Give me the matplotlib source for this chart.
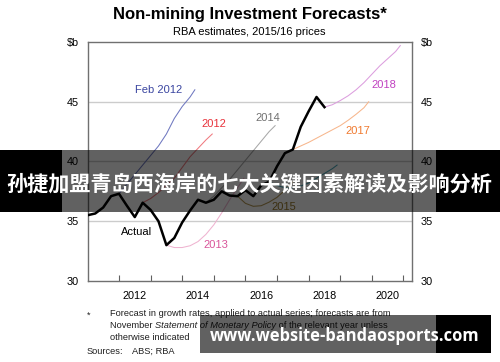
import matplotlib
matplotlib.use('Agg')
import matplotlib.pyplot as plt
from matplotlib.patches import Rectangle

# ---------------- data ----------------
actual_years = [2011.0, 2011.25, 2011.5, 2011.75, 2012.0, 2012.25, 2012.5, 2012.75,
                2013.0, 2013.25, 2013.5, 2013.75, 2014.0, 2014.25, 2014.5, 2014.75,
                2015.0, 2015.25, 2015.5, 2015.75, 2016.0, 2016.25, 2016.5, 2016.75,
                2017.0, 2017.25, 2017.5, 2017.75, 2018.0, 2018.25, 2018.5]
actual_vals = [35.5, 35.65, 36.15, 37.1, 37.3, 36.3, 35.35, 36.55,
               35.95, 35.0, 33.0, 33.6, 34.9, 35.9, 36.8, 36.55,
               36.8, 37.5, 37.15, 37.1, 37.6, 37.1, 38.0, 38.3,
               39.6, 40.7, 41.0, 42.9, 44.2, 45.4, 44.55]

feb2012_years = [2012.0, 2012.25, 2012.5, 2012.75, 2013.0, 2013.25, 2013.5, 2013.75, 2014.0, 2014.25, 2014.4]
feb2012_vals = [37.3, 38.1, 38.9, 39.7, 40.5, 41.3, 42.3, 43.6, 44.6, 45.4, 46.0]

f2012_years = [2012.75, 2013.0, 2013.25, 2013.5, 2013.75, 2014.0, 2014.25, 2014.5, 2014.75, 2014.95]
f2012_vals = [36.55, 36.9, 37.4, 38.0, 38.6, 39.5, 40.4, 41.1, 41.8, 42.3]

f2013_years = [2013.5, 2013.75, 2014.0, 2014.25, 2014.5, 2014.75, 2015.0, 2015.25, 2015.5, 2015.75, 2015.95]
f2013_vals = [33.0, 32.8, 32.8, 32.95, 33.3, 33.9, 34.7, 35.7, 36.8, 37.8, 38.6]

f2014_years = [2014.75, 2015.0, 2015.25, 2015.5, 2015.75, 2016.0, 2016.25, 2016.5, 2016.75, 2016.94]
f2014_vals = [36.55, 37.1, 37.8, 38.5, 39.3, 40.1, 40.9, 41.7, 42.5, 43.0]

f2015_years = [2015.75, 2016.0, 2016.25, 2016.5, 2016.75, 2017.0, 2017.25, 2017.5]
f2015_vals = [37.1, 36.5, 36.25, 36.3, 36.6, 37.0, 37.6, 38.3]

f2016_years = [2016.75, 2017.0, 2017.25, 2017.5, 2017.75, 2018.0, 2018.25, 2018.5, 2018.75, 2018.9]
f2016_vals = [38.3, 38.0, 37.8, 37.8, 37.95, 38.2, 38.6, 39.0, 39.4, 39.7]

f2017_years = [2017.5, 2017.75, 2018.0, 2018.25, 2018.5, 2018.75, 2019.0, 2019.25, 2019.5, 2019.75, 2019.9]
f2017_vals = [41.0, 41.3, 41.6, 41.95, 42.3, 42.65, 43.0, 43.45, 43.95, 44.5, 45.0]

f2018_years = [2018.5, 2018.75, 2019.0, 2019.25, 2019.5, 2019.75, 2020.0, 2020.25, 2020.5, 2020.75, 2020.9]
f2018_vals = [44.55, 44.75, 45.1, 45.5, 46.0, 46.6, 47.3, 48.0, 48.6, 49.2, 49.7]

year_ticks = [2012, 2013, 2014, 2015, 2016, 2017, 2018, 2019, 2020, 2021]
year_label_pos = [2012.5, 2014.5, 2016.5, 2018.5, 2020.5]
year_labels = ['2012', '2014', '2016', '2018', '2020']
y_ticks = [30, 35, 40, 45, 50]
y_labels = ['30', '35', '40', '45', '$b']

title = 'Non-mining Investment Forecasts*'
subtitle = 'RBA estimates, 2015/16 prices'
banner_text = '孙捷加盟青岛西海岸的七大关键因素解读及影响分析'
site_text = 'www.website-bandaosports.com'

# ---------------- figure ----------------
W, H = 500, 362
plt.rcParams['font.family'] = ['Liberation Sans', 'DejaVu Sans']
fig = plt.figure(figsize=(W / 100, H / 100), dpi=100)
fig.patch.set_facecolor('white')

def fx(x):
    return x / W

def fy(y):
    return 1 - y / H

ax = fig.add_axes([fx(88), fy(281), fx(412) - fx(88), fy(42) - fy(281)])
ax.set_xlim(2011.02, 2021.27)
ax.set_ylim(30, 50)

for v in [35, 40, 45]:
    ax.axhline(v, color='#cccccc', lw=1.0, zorder=1)

lw_f = 0.75
ax.plot(feb2012_years, feb2012_vals, color='#6f78c0', lw=lw_f, zorder=2)
ax.plot(f2012_years, f2012_vals, color='#f07a80', lw=lw_f, zorder=2)
ax.plot(f2013_years, f2013_vals, color='#efb3d0', lw=lw_f, zorder=2)
ax.plot(f2014_years, f2014_vals, color='#a8a8a8', lw=lw_f, zorder=2)
ax.plot(f2015_years, f2015_vals, color='#b39650', lw=lw_f, zorder=2)
ax.plot(f2016_years, f2016_vals, color='#4aa6b8', lw=lw_f, zorder=2)
ax.plot(f2017_years, f2017_vals, color='#f7b68c', lw=lw_f, zorder=2)
ax.plot(f2018_years, f2018_vals, color='#dc9ede', lw=lw_f, zorder=2)
ax.plot(actual_years, actual_vals, color='black', lw=1.8, zorder=3)

lab_fs = 8

def lab(txt, x, y, c):
    fig.text(fx(x), fy(y), txt, color=c, fontsize=lab_fs, ha='center', va='center', zorder=5)

lab('Feb 2012', 159, 90, '#3a45a0')
lab('2012', 214, 124, '#e8313a')
lab('2014', 268, 118, '#707070')
lab('2018', 384, 85, '#c040c0')
lab('2017', 358, 131, '#f07a30')
lab('2015', 284, 207, '#9a7a2a')
lab('2013', 216, 245, '#d9559a')
lab('Actual', 137, 232, 'black')

ax.set_xticks(year_ticks)
ax.set_xticklabels([])
ax.set_xticks(year_label_pos, minor=True)
ax.set_xticklabels(year_labels, minor=True)
ax.tick_params(axis='x', which='major', direction='in', length=4, width=0.8, color='#606060', top=False)
ax.tick_params(axis='x', which='minor', length=0, labelsize=7.8, pad=7)

ax.set_yticks(y_ticks)
ax.set_yticklabels(y_labels)
ax.tick_params(axis='y', which='both', left=False, right=False, labelleft=True, labelright=True,
               labelsize=7.8, pad=3)

for s in ax.spines.values():
    s.set_color('#707070')
    s.set_linewidth(1.0)

fig.text(fx(250), fy(14), title, fontsize=12, fontweight='bold', ha='center', va='center')
fig.text(fx(249), fy(32), subtitle, fontsize=8, ha='center', va='center')

fn = 6.7
fc = '#202020'
fig.text(fx(87), fy(315), '*', fontsize=fn, ha='left', va='center', color=fc)
fig.text(fx(110), fy(313), 'Forecast in growth rates, applied to actual series; forecasts are from',
         fontsize=fn, ha='left', va='center', color=fc)
p1 = fig.text(fx(110), fy(325), 'November ', fontsize=fn, ha='left', va='center', color=fc)
p2 = fig.text(fx(150), fy(325), 'Statement of Monetary Policy', fontsize=fn, style='italic',
              ha='left', va='center', color=fc)
p3 = fig.text(fx(250), fy(325), ' of the relevant year unless', fontsize=fn, ha='left', va='center', color=fc)
fig.text(fx(110), fy(337), 'otherwise indicated', fontsize=fn, ha='left', va='center', color=fc)
fig.text(fx(87), fy(351), 'Sources:', fontsize=fn, ha='left', va='center', color=fc)
fig.text(fx(132), fy(351), 'ABS; RBA', fontsize=fn, ha='left', va='center', color=fc)

# ---------------- overlay banners ----------------
def rect(x0, y0, x1, y1, color, alpha):
    r = Rectangle((fx(x0), fy(y1)), fx(x1) - fx(x0), fy(y0) - fy(y1), transform=fig.transFigure,
                  facecolor=color, edgecolor='none', alpha=alpha, zorder=10)
    fig.add_artist(r)

rect(62, 150, 436, 212, 'black', 0.62)
rect(0, 150, 62, 212, 'black', 1.0)
rect(436, 150, 500, 212, 'black', 1.0)
t1 = fig.text(fx(249), fy(184), banner_text, fontsize=14, fontweight='bold', color='white',
              ha='center', va='center', family=['Noto Sans CJK SC', 'DejaVu Sans'], zorder=11)

rect(200, 315, 436, 353, 'black', 0.62)
rect(436, 315, 491, 353, 'black', 1.0)
t2 = fig.text(fx(345), fy(336), site_text, fontsize=12, fontweight='bold', color='white',
              ha='center', va='center', family=['Open Sans', 'DejaVu Sans'], zorder=11)

# fit banner text widths and chain the footnote pieces
fig.canvas.draw()
r = fig.canvas.get_renderer()
for t, target in [(t1, 487), (t2, 270)]:
    w = t.get_window_extent(r).width
    t.set_fontsize(t.get_fontsize() * target / w)
x_next = p1.get_window_extent(r).x1
p2.set_x(x_next / W)
fig.canvas.draw()
x_next = p2.get_window_extent(r).x1
p3.set_x(x_next / W)

fig.savefig('out.png', dpi=100)
